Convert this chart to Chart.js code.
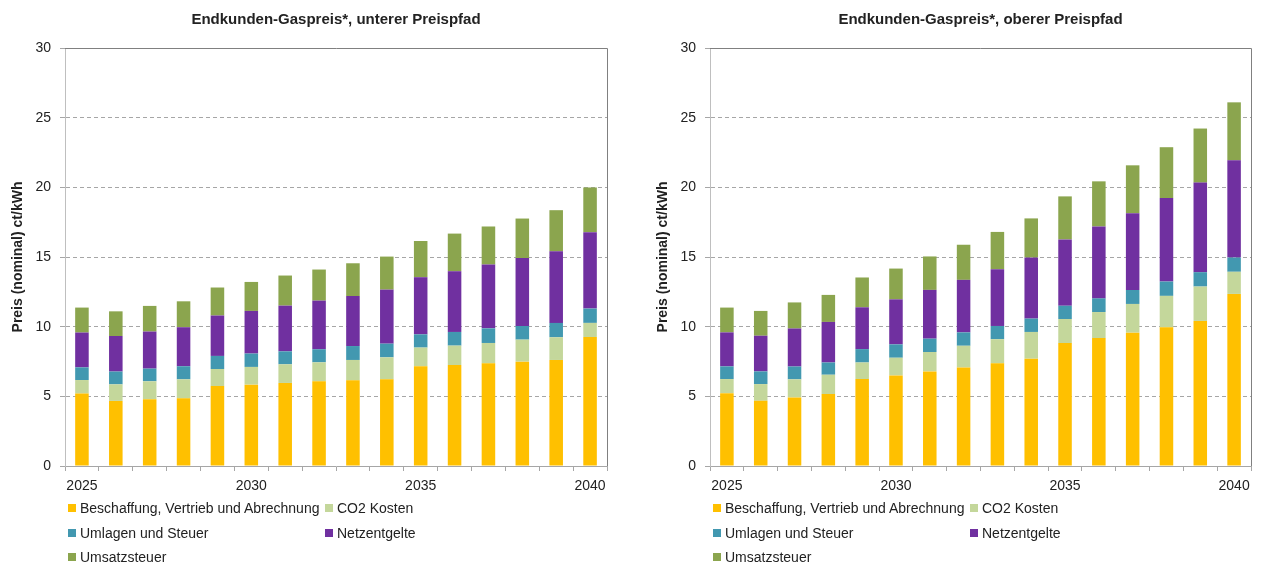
<!DOCTYPE html>
<html>
<head>
<meta charset="utf-8">
<script src="https://cdn.jsdelivr.net/npm/chart.js@4"></script>
<style>
  body { margin: 0; width: 1262px; height: 565px; background: #fff; font-family: 'Liberation Sans', Arial, sans-serif; overflow: hidden; }
  .panel { position: absolute; top: 0; height: 565px; }
  .panel canvas { position: absolute; left: 0; top: 0; }
  .legend { position: absolute; left: 0; top: 0; font-size: 14px; color: #222; }
  .legend__item { position: absolute; white-space: nowrap; line-height: 20px; }
  .legend__box { display: inline-block; width: 8px; height: 8px; margin-right: 4px; vertical-align: 1px; }
</style>
</head>
<body>
<div class="panel" style="left:0;width:625px">
  <canvas id="chartUnten" width="625" height="500"></canvas>
  <div class="legend" id="legendUnten"></div>
</div>
<div class="panel" style="left:645px;width:617px">
  <canvas id="chartOben" width="617" height="500"></canvas>
  <div class="legend" id="legendOben"></div>
</div>
<script>
const years = ['2025', '2026', '2027', '2028', '2029', '2030', '2031', '2032',
  '2033', '2034', '2035', '2036', '2037', '2038', '2039', '2040'];
const shownYears = ['2025', '2030', '2035', '2040'];
const yTicks = [0, 5, 10, 15, 20, 25, 30];

const seriesNames = ['Beschaffung, Vertrieb und Abrechnung', 'CO2 Kosten', 'Umlagen und Steuer', 'Netzentgelte', 'Umsatzsteuer'];
const seriesColors = ['#FFC000', '#C4D79B', '#4298B0', '#7030A0', '#8BA54E'];

// unterer Preispfad
const beschaffungUnten = [5.2, 4.67, 4.79, 4.86, 5.74, 5.84, 5.96, 6.08, 6.15, 6.22, 7.16, 7.25, 7.37, 7.49, 7.61, 9.26];
const co2Unten = [0.97, 1.19, 1.29, 1.36, 1.22, 1.27, 1.34, 1.36, 1.46, 1.58, 1.34, 1.39, 1.46, 1.58, 1.63, 1.01];
const umlagenUnten = [0.91, 0.92, 0.91, 0.94, 0.94, 0.96, 0.93, 0.94, 1.0, 0.98, 0.95, 0.98, 1.05, 0.98, 1.03, 1.03];
const netzUnten = [2.5, 2.55, 2.66, 2.8, 2.9, 3.06, 3.28, 3.49, 3.59, 3.88, 4.1, 4.36, 4.58, 4.88, 5.14, 5.48];
const ustUnten = [1.79, 1.77, 1.84, 1.86, 2.01, 2.08, 2.16, 2.23, 2.35, 2.37, 2.6, 2.7, 2.73, 2.83, 2.95, 3.21];

// oberer Preispfad
const beschaffungOben = [5.23, 4.68, 4.92, 5.16, 6.24, 6.5, 6.79, 7.07, 7.37, 7.7, 8.82, 9.18, 9.57, 9.95, 10.41, 12.35];
const co2Oben = [1.01, 1.2, 1.3, 1.39, 1.19, 1.27, 1.39, 1.56, 1.73, 1.92, 1.73, 1.87, 2.06, 2.26, 2.47, 1.59];
const umlagenOben = [0.91, 0.91, 0.92, 0.88, 0.96, 0.96, 0.96, 0.96, 0.95, 0.96, 0.95, 0.98, 1.0, 1.03, 1.03, 1.02];
const netzOben = [2.44, 2.56, 2.73, 2.91, 3.0, 3.23, 3.5, 3.77, 4.07, 4.38, 4.76, 5.16, 5.51, 5.99, 6.43, 6.98];
const ustOben = [1.78, 1.78, 1.87, 1.94, 2.14, 2.21, 2.4, 2.52, 2.68, 2.81, 3.09, 3.24, 3.44, 3.65, 3.88, 4.16];

const fontFamily = "'Liberation Sans', Arial, sans-serif";

// top and right frame of the plot area
const frame = {
  id: 'frame',
  afterDatasetsDraw(chart) {
    const a = chart.chartArea;
    const c = chart.ctx;
    c.save();
    c.strokeStyle = '#808080';
    c.lineWidth = 1;
    c.beginPath();
    c.moveTo(a.left, Math.round(a.top) + 0.5);
    c.lineTo(Math.round(a.right) + 0.5, Math.round(a.top) + 0.5);
    c.lineTo(Math.round(a.right) + 0.5, a.bottom);
    c.stroke();
    c.restore();
  }
};

function makeChart(canvasId, legendId, title, series, rightPad) {
  const ctx = document.getElementById(canvasId).getContext('2d');
  const chart = new Chart(ctx, {
    type: 'bar',
    data: {
      labels: years,
      datasets: series.map(function (values, i) {
        return {
          label: seriesNames[i],
          data: values,
          backgroundColor: seriesColors[i],
          borderWidth: 0,
          barPercentage: 0.4,
          categoryPercentage: 1
        };
      })
    },
    options: {
      responsive: false,
      animation: false,
      layout: { padding: { left: 0, right: rightPad, top: 0, bottom: 0 } },
      plugins: {
        legend: { display: false },
        tooltip: { enabled: false },
        title: {
          display: true,
          text: title,
          fullSize: false,
          color: '#222',
          font: { family: fontFamily, size: 15, weight: 'bold' },
          padding: { top: 11, bottom: 19 }
        }
      },
      scales: {
        x: {
          stacked: true,
          offset: true,
          grid: { offset: true, drawOnChartArea: false, drawTicks: true, tickLength: 5, tickColor: '#a6a6a6' },
          border: { color: '#a6a6a6' },
          ticks: {
            autoSkip: false,
            maxRotation: 0,
            color: '#222',
            padding: 7,
            font: { family: fontFamily, size: 14 },
            callback: function (v, i) { return shownYears.includes(years[i]) ? years[i] : ''; }
          },
          afterFit: function (scale) { scale.height = 34; }
        },
        y: {
          stacked: true,
          min: 0,
          max: 30,
          afterBuildTicks: function (scale) { scale.ticks = yTicks.map(function (v) { return { value: v }; }); },
          grid: {
            color: function (c) { return (c.tick && (c.tick.value === 0 || c.tick.value === 30)) ? 'rgba(0,0,0,0)' : '#a6a6a6'; },
            tickColor: '#a6a6a6',
            tickLength: 5
          },
          border: { color: '#bfbfbf', dash: [4, 3] },
          ticks: { color: '#222', padding: 9, font: { family: fontFamily, size: 14 } },
          title: {
            display: true,
            text: 'Preis (nominal) ct/kWh',
            color: '#222',
            font: { family: fontFamily, size: 14, weight: 'bold' },
            padding: { top: 10, bottom: 0 }
          },
          afterFit: function (scale) { scale.width = 65; }
        }
      }
    },
    plugins: [frame]
  });

  // legend in two columns below the chart
  const legend = document.getElementById(legendId);
  chart.data.datasets.forEach(function (ds, i) {
    const item = document.createElement('div');
    item.className = 'legend__item';
    item.style.left = (i % 2 === 0 ? 68 : 325) + 'px';
    item.style.top = (498 + Math.floor(i / 2) * 24.5) + 'px';
    item.innerHTML = '<span class="legend__box" style="background:' + ds.backgroundColor + '"></span>' + ds.label;
    legend.appendChild(item);
  });
  return chart;
}

makeChart('chartUnten', 'legendUnten', 'Endkunden-Gaspreis*, unterer Preispfad',
  [beschaffungUnten, co2Unten, umlagenUnten, netzUnten, ustUnten], 18);
makeChart('chartOben', 'legendOben', 'Endkunden-Gaspreis*, oberer Preispfad',
  [beschaffungOben, co2Oben, umlagenOben, netzOben, ustOben], 11);
</script>
</body>
</html>
